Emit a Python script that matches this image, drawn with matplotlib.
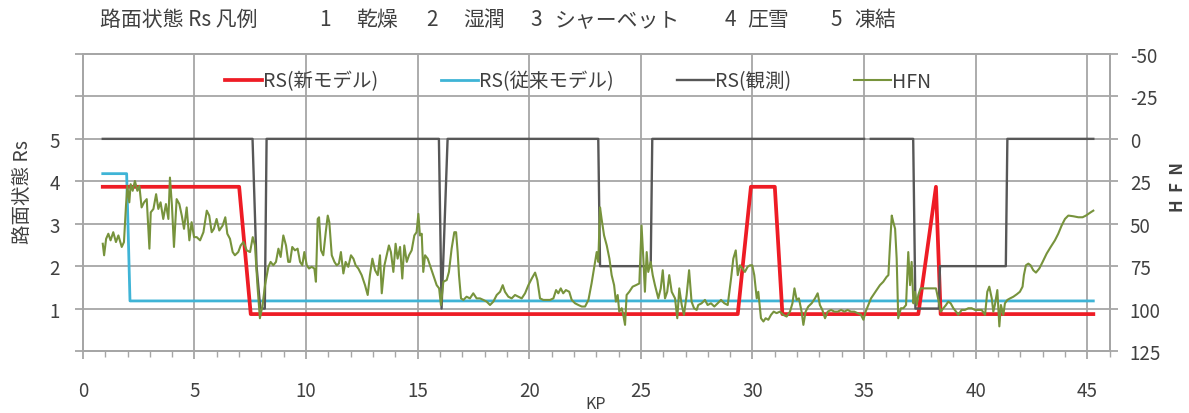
import numpy as np
import matplotlib
matplotlib.use("Agg")
import matplotlib.pyplot as plt
from matplotlib.ticker import MultipleLocator

plt.rcParams['font.family'] = ['Noto Sans CJK JP', 'DejaVu Sans']
plt.rcParams['axes.unicode_minus'] = False

# ---- data -------------------------------------------------------------
title_head = "路面状態 Rs 凡例"
state_codes = ["1", "2", "3", "4", "5"]
state_names = ["乾燥", "湿潤", "シャーベット", "圧雪", "凍結"]
series_names = ["RS(新モデル)", "RS(従来モデル)", "RS(観測)", "HFN"]

# road-surface state, new model (offset slightly below integer levels)
new_kp = [0.89, 7.0, 7.52, 29.34, 29.93, 31.0, 31.34, 37.43, 38.22, 38.43, 45.27]
new_rs = [3.87, 3.87, 0.87, 0.87, 3.87, 3.87, 0.87, 0.87, 3.87, 0.87, 0.87]

# road-surface state, previous model (offset slightly above integer levels)
old_kp = [0.89, 1.96, 2.11, 45.27]
old_rs = [4.18, 4.18, 1.18, 1.18]

# observed road-surface state
obs_kp = [0.89, 7.6, 7.78, 7.95, 8.15, 8.23, 15.95, 16.07, 16.34, 23.09, 23.17,
          25.44, 25.51, 35.0, 35.15, 35.3, 37.2, 37.3, 38.35, 38.4, 41.35, 41.42, 45.27]
obs_rs = [5, 5, 2, 1, 1, 5, 5, 1, 5, 5, 2,
          2, 5, 5, np.nan, 5, 5, 1, 1, 2, 2, 5, 5]

# friction number HFN along the route
hfn_kp = [0.89, 0.95, 1.04, 1.14, 1.24, 1.36, 1.48, 1.59, 1.74, 1.84, 1.93, 1.99,
          2.08, 2.14, 2.23, 2.33, 2.44, 2.53, 2.63, 2.74, 2.86, 2.98, 3.04, 3.16,
          3.28, 3.38, 3.48, 3.60, 3.72, 3.83, 3.90, 3.99, 4.08, 4.20, 4.32, 4.43,
          4.53, 4.65, 4.77, 4.87, 4.98, 5.10, 5.25, 5.40, 5.55, 5.66, 5.77, 5.87,
          5.99, 6.11, 6.26, 6.38, 6.47, 6.59, 6.71, 6.81, 6.96, 7.07, 7.19, 7.34,
          7.49, 7.61, 7.71, 7.82, 7.93, 8.05, 8.16, 8.31, 8.41, 8.53, 8.65, 8.76,
          8.86, 8.98, 9.10, 9.20,
          9.28, 9.38, 9.50, 9.62, 9.73, 9.83, 9.92, 10.03, 10.13, 10.25, 10.37,
          10.44, 10.52, 10.58, 10.67, 10.77, 10.88, 10.97, 11.04, 11.15, 11.27,
          11.37, 11.47, 11.56, 11.67, 11.77, 11.89, 12.01, 12.12, 12.22, 12.34,
          12.49, 12.64, 12.76, 12.86, 12.97, 13.09, 13.21, 13.31, 13.39, 13.51,
          13.61, 13.71, 13.80, 13.91, 14.01, 14.10, 14.21, 14.31, 14.40, 14.51,
          14.61, 14.73, 14.85, 14.95, 15.03, 15.10, 15.18, 15.25, 15.33, 15.45,
          15.55, 15.70, 15.85, 15.96, 16.04, 16.15, 16.30, 16.40, 16.52, 16.64,
          16.72, 16.79, 16.85, 16.94, 17.05, 17.19, 17.34, 17.49, 17.64, 17.79,
          17.94, 18.09, 18.24, 18.39,
          18.54, 18.69, 18.81, 18.91, 19.06, 19.21, 19.36, 19.51, 19.66, 19.81,
          19.96, 20.11, 20.26, 20.36, 20.48, 20.63, 20.78, 20.93, 21.08, 21.20,
          21.30, 21.41, 21.52, 21.64, 21.79, 21.90, 22.05, 22.20, 22.35, 22.50,
          22.65, 22.79, 22.90, 23.02, 23.09, 23.17, 23.24, 23.35, 23.47, 23.59,
          23.69, 23.80, 23.88, 23.96, 24.03, 24.14, 24.21, 24.29, 24.36, 24.48,
          24.63, 24.78, 24.93, 25.03, 25.11, 25.18, 25.26, 25.33, 25.44, 25.53,
          25.63, 25.78, 25.89, 25.98, 26.08, 26.18, 26.27, 26.38, 26.53, 26.63,
          26.72, 26.83, 26.93, 27.05, 27.16, 27.27, 27.38, 27.50,
          27.57, 27.72, 27.87, 27.99, 28.14, 28.29, 28.44, 28.59, 28.74, 28.89,
          29.04, 29.14, 29.25, 29.34, 29.44, 29.55, 29.66, 29.78, 29.89, 29.99,
          30.08, 30.19, 30.26, 30.38, 30.49, 30.59, 30.71, 30.83, 30.95, 31.08,
          31.23, 31.38, 31.53, 31.68, 31.79, 31.88, 31.98, 32.08, 32.20, 32.28,
          32.38, 32.50, 32.65, 32.80, 32.92, 33.02, 33.13, 33.25, 33.37, 33.52,
          33.67, 33.82, 33.97, 34.12, 34.26, 34.41, 34.56, 34.71, 34.86, 34.97,
          35.07, 35.19, 35.31, 35.41, 35.56, 35.71, 35.86, 36.01, 36.09, 36.16,
          36.24, 36.31, 36.39, 36.46, 36.53, 36.65,
          36.76, 36.88, 36.98, 37.06, 37.13, 37.21, 37.28, 37.36, 37.43, 37.53,
          37.65, 37.80, 37.95, 38.10, 38.22, 38.33, 38.43, 38.55, 38.67, 38.77,
          38.88, 39.00, 39.12, 39.22, 39.37, 39.52, 39.67, 39.82, 39.97, 40.12,
          40.27, 40.42, 40.52, 40.61, 40.72, 40.79, 40.86, 40.97, 41.06, 41.13,
          41.24, 41.31, 41.42, 41.54, 41.69, 41.84, 41.98, 42.10, 42.16, 42.25,
          42.36, 42.46, 42.58, 42.70, 42.85, 43.00, 43.18, 43.36, 43.55, 43.70,
          43.85, 44.00, 44.15, 44.37, 44.60, 44.79, 44.94, 45.05, 45.15, 45.27]
hfn_val = [61.8, 68.6, 58.9, 55.9, 59.8, 55.0, 60.8, 56.9, 63.7, 60.8, 39.4, 27.7,
           37.4, 26.7, 30.6, 24.8, 30.6, 27.7, 40.4, 37.4, 35.5, 64.7, 43.3, 41.3,
           32.6, 41.3, 37.4, 47.2, 38.4, 47.2, 22.8, 39.4, 63.7, 35.5, 38.4, 45.2,
           53.0, 40.4, 59.8, 49.1, 57.9, 57.9, 59.8, 55.0, 42.3, 45.2, 55.0, 53.0,
           47.2, 54.0, 51.1, 46.2, 55.9, 58.9, 66.7, 68.6, 66.7, 62.8, 60.8, 65.7,
           66.7, 57.9, 62.8, 86.2, 105.7, 97.9, 86.2, 75.4, 72.5, 74.5, 72.5, 64.7,
           69.6, 56.9, 62.8, 72.5,
           72.5, 63.7, 65.7, 64.7, 72.5, 74.5, 66.7, 74.5, 76.4, 75.4, 76.4,
           84.2, 47.2, 46.2, 65.7, 68.6, 55.0, 45.2, 49.1, 68.6, 72.5,
           74.5, 73.5, 66.7, 79.3, 72.5, 75.4, 68.6, 70.6, 74.5, 76.4,
           80.3, 86.2, 92.0, 80.3, 70.6, 77.4, 80.3, 68.6, 91.0, 74.5,
           68.6, 62.8, 66.7, 78.4, 61.8, 70.6, 63.7, 82.3, 62.8, 72.5,
           68.6, 65.7, 56.9, 55.0, 44.2, 56.9, 55.9, 78.4, 68.6, 70.6,
           74.5, 80.3, 86.2, 88.1, 97.9, 84.2, 83.2, 78.4, 64.7, 55.0,
           55.0, 66.7, 80.3, 94.0, 94.9, 93.0, 94.0, 91.0, 94.0, 94.0,
           94.9, 95.9, 97.9, 95.9,
           92.0, 90.1, 86.2, 90.1, 93.0, 94.0, 92.0, 93.0, 94.0, 91.0,
           86.2, 82.3, 78.8, 83.2, 94.0, 94.9, 94.9, 94.9, 94.0, 89.1,
           91.0, 88.1, 91.0, 89.1, 90.1, 94.9, 96.9, 97.9, 98.8, 98.8,
           94.9, 85.2, 76.4, 66.7, 72.5, 40.4, 47.2, 56.9, 62.8, 70.6,
           80.3, 86.2, 95.9, 92.0, 101.8, 99.8, 103.7, 109.6, 92.0, 90.1,
           87.1, 86.2, 85.2, 51.1, 70.6, 90.1, 66.7, 78.4, 72.5, 80.3,
           86.2, 94.0, 88.1, 77.4, 94.0, 90.1, 80.3, 90.1, 94.0, 105.7,
           88.1, 97.9, 103.7, 92.0, 77.4, 95.9, 99.8, 100.8,
           97.9, 96.9, 94.9, 97.9, 96.9, 98.8, 96.9, 94.9, 96.9, 97.9,
           82.3, 70.6, 65.7, 80.3, 74.5, 76.4, 78.4, 75.4, 74.5, 74.5,
           80.3, 94.0, 90.1, 105.7, 107.6, 105.7, 106.6, 103.7, 101.8, 102.7,
           101.8, 103.7, 104.7, 101.8, 96.9, 88.1, 94.9, 94.0, 101.8, 109.6,
           101.8, 98.8, 96.9, 94.0, 91.0, 97.9, 100.8, 105.7, 101.8, 100.8,
           101.8, 101.8, 100.8, 101.8, 100.8, 101.8, 101.8, 102.7, 103.7, 106.6,
           101.8, 97.9, 94.0, 92.0, 89.1, 86.2, 84.2, 81.3, 80.3, 62.8,
           45.2, 49.1, 53.0, 70.6, 105.7, 99.8,
           99.8, 97.9, 66.7, 86.2, 72.5, 96.9, 90.1, 97.9, 92.0, 88.1,
           88.1, 88.1, 88.1, 88.1, 88.1, 94.9, 101.8, 99.8, 97.9, 95.9,
           96.9, 99.8, 101.8, 103.7, 100.8, 100.8, 99.8, 99.8, 100.8, 100.8,
           100.8, 103.7, 90.1, 87.1, 94.0, 101.8, 97.9, 89.1, 110.5, 97.9,
           103.7, 96.9, 94.9, 94.0, 93.0, 91.6, 90.1, 87.1, 80.3, 74.5,
           73.5, 74.5, 77.4, 78.8, 76.4, 72.5, 67.6, 63.7, 59.8, 55.9,
           51.1, 47.2, 45.2, 45.6, 46.2, 46.2, 45.2, 44.2, 43.3, 42.3]

rs_ticks = [0, 1, 2, 3, 4, 5, 6, 7]
rs_labels = ["", "1", "2", "3", "4", "5", "", ""]
hfn_ticks = [-50, -25, 0, 25, 50, 75, 100, 125]
kp_major = [0, 5, 10, 15, 20, 25, 30, 35, 40, 45]

# ---- styling ------------------------------------------------------------
c_new = "#ee1c25"
c_old = "#3fb4d6"
c_obs = "#575757"
c_hfn = "#77933c"
c_grid = "#a6a6a6"
c_text = "#404040"

W, H = 1189, 414
fig = plt.figure(figsize=(W / 100, H / 100), dpi=100)
ax_l, ax_r, ax_t, ax_b = 82.9, 1109.6, 55, 352
ax = fig.add_axes([ax_l / W, 1 - ax_b / H, (ax_r - ax_l) / W, (ax_b - ax_t) / H])
ax2 = ax.twinx()

ax.set_xlim(0, 46)
ax.set_ylim(0, 7)
ax2.set_ylim(125, -50)

ax.set_yticks(rs_ticks)
ax.set_yticklabels(rs_labels)
ax.set_xticks(kp_major)
ax.xaxis.set_minor_locator(MultipleLocator(1))
ax2.set_yticks(hfn_ticks)

ax.set_axisbelow(True)
ax.grid(True, which='major', color=c_grid, lw=1.3)

ax.plot(old_kp, old_rs, color=c_old, lw=2.0, label=series_names[1], zorder=3)
ax.plot(new_kp, new_rs, color=c_new, lw=2.7, label=series_names[0], zorder=4)
ax.plot(obs_kp, obs_rs, color=c_obs, lw=1.7, label=series_names[2], zorder=5)
ax2.plot(hfn_kp, hfn_val, color=c_hfn, lw=1.5, label=series_names[3], zorder=6)

for a in (ax, ax2):
    for s in a.spines.values():
        s.set_color(c_grid)
        s.set_linewidth(1.3)

ax.tick_params(axis='y', length=6, width=1.3, color=c_grid, labelsize=13.5,
               labelcolor=c_text, pad=10.5)
ax.tick_params(axis='x', which='major', length=6, width=1.3, color=c_grid,
               labelsize=13.5, labelcolor=c_text, pad=15)
ax.tick_params(axis='x', which='minor', length=4, width=1.0, color=c_grid)
ax2.tick_params(axis='y', length=6, width=1.3, color=c_grid, labelsize=13.5,
                labelcolor=c_text, pad=8.5)
for lab in ax2.get_yticklabels():
    lab.set_horizontalalignment('left')

fig.text(596 / W, 1 - 405 / H, "KP", ha='center', va='center', fontsize=11.5,
         color=c_text)
fig.text(23 / W, 1 - 192 / H, "路面状態 Rs", rotation=90, ha='center', va='center',
         fontsize=14, color=c_text)
fig.text(1178 / W, 1 - 187 / H, "H  F  N", rotation=90, ha='center', va='center',
         fontsize=12, color=c_text, fontweight='bold')

# heading: state codes and their names
title_y = 1 - 20 / H
fig.text(100 / W, title_y, title_head, ha='left', va='center', fontsize=15,
         color=c_text)
code_x = [325, 432, 536, 730, 836]
name_x = [356, 463, 555, 747, 854]
for code, name, cx, nx in zip(state_codes, state_names, code_x, name_x):
    fig.text(cx / W, title_y, code, ha='center', va='center', fontsize=15,
             color=c_text)
    fig.text(nx / W, title_y, name, ha='left', va='center', fontsize=15,
             color=c_text)

h1, l1 = ax.get_legend_handles_labels()
h2, l2 = ax2.get_legend_handles_labels()
order = [1, 0, 2]
handles = [h1[i] for i in order] + h2
labels = [l1[i] for i in order] + l2
leg = ax2.legend(handles, labels, ncol=4, loc='center',
                 bbox_to_anchor=(0.482, 0.909), frameon=False, fontsize=14,
                 handlelength=1.9, handletextpad=0.05, columnspacing=3.25,
                 borderaxespad=0, borderpad=0)
for t in leg.get_texts():
    t.set_color(c_text)

fig.savefig("out.png", dpi=100, facecolor="white")
